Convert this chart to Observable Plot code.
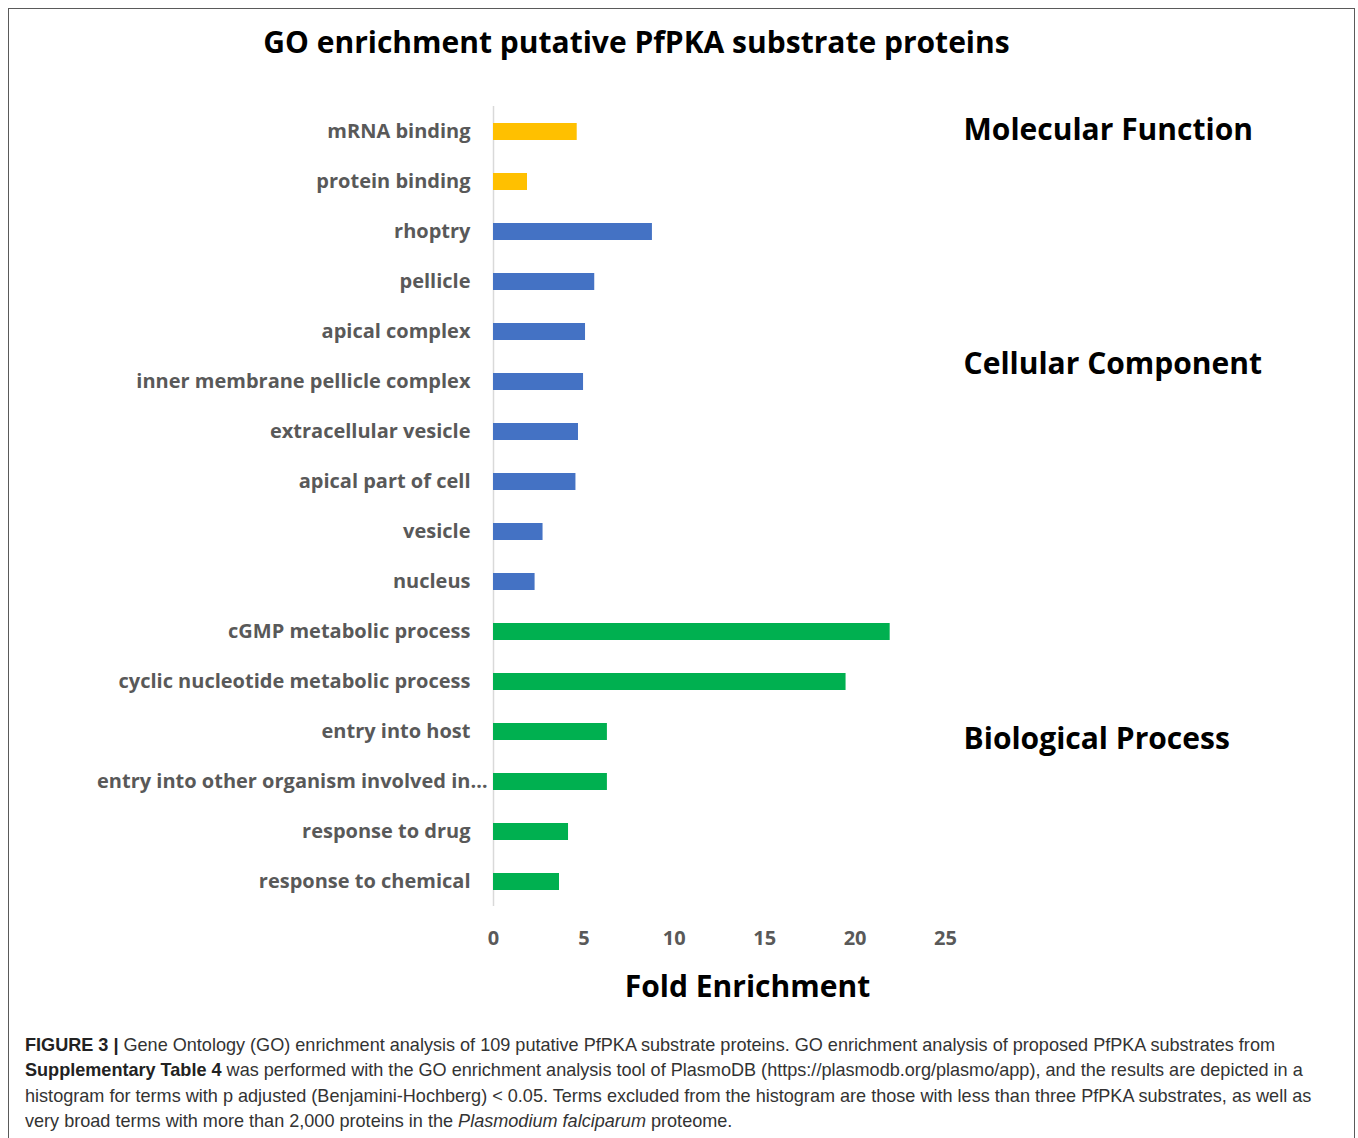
<!DOCTYPE html>
<html><head><meta charset="utf-8">
<script src="https://cdn.jsdelivr.net/npm/d3@7"></script>
<script src="https://cdn.jsdelivr.net/npm/@observablehq/plot@0.6"></script>
<style>
body{margin:0;background:#fff;width:1358px;height:1138px;overflow:hidden;position:relative;}
#frame{position:absolute;left:8px;top:8px;width:1347px;height:1140px;border:1px solid #5a5a5a;border-bottom:none;box-sizing:border-box;}
#title{position:absolute;left:0;width:1273px;top:21px;text-align:center;font-family:"Open Sans";font-weight:bold;font-size:30px;color:#000;white-space:nowrap;}
#chart{position:absolute;left:0;top:0;}
#caption{position:absolute;left:25px;top:1032px;font-family:"Liberation Sans";font-size:18.5px;line-height:25.4px;color:#333;white-space:nowrap;transform-origin:0 0;}
#caption b{color:#222;}
</style>
</head><body>
<div id="frame"></div>
<div id="chart"></div>
<div id="title">GO enrichment putative PfPKA substrate proteins</div>
<div id="caption">
<div id="cap1" style="display:inline-block"><b>FIGURE 3 |</b> Gene Ontology (GO) enrichment analysis of 109 putative PfPKA substrate proteins. GO enrichment analysis of proposed PfPKA substrates from</div>
<div><b>Supplementary Table 4</b> was performed with the GO enrichment analysis tool of PlasmoDB (https://plasmodb.org/plasmo/app), and the results are depicted in a</div>
<div>histogram for terms with p adjusted (Benjamini-Hochberg) &lt; 0.05. Terms excluded from the histogram are those with less than three PfPKA substrates, as well as</div>
<div>very broad terms with more than 2,000 proteins in the <i>Plasmodium falciparum</i> proteome.</div>
</div>
<script>
const categories = [
  "mRNA binding","protein binding",
  "rhoptry","pellicle","apical complex","inner membrane pellicle complex","extracellular vesicle","apical part of cell","vesicle","nucleus",
  "cGMP metabolic process","cyclic nucleotide metabolic process","entry into host","entry into other organism involved in…","response to drug","response to chemical"
];
const values = [4.63,1.88, 8.79,5.6,5.09,4.98,4.7,4.56,2.74,2.3, 21.94,19.5,6.3,6.3,4.15,3.65];
const groups = ["Molecular Function","Molecular Function",
  "Cellular Component","Cellular Component","Cellular Component","Cellular Component","Cellular Component","Cellular Component","Cellular Component","Cellular Component",
  "Biological Process","Biological Process","Biological Process","Biological Process","Biological Process","Biological Process"];
const groupNames = ["Molecular Function","Cellular Component","Biological Process"];
const groupColors = ["#FFC000","#4472C4","#00B050"];
const groupLabelRow = ["mRNA binding","inner membrane pellicle complex","entry into host"];
const groupLabelDy = [-2,-18,7];
const xTicks = [0,5,10,15,20,25];
const xLabel = "Fold Enrichment";
const longLabel = "entry into other organism involved in…";

const data = categories.map((c,i)=>({category:c, value:values[i], group:groups[i]}));
const glabels = groupNames.map((g,i)=>({group:g, row:groupLabelRow[i], dy:groupLabelDy[i]}));

const chart = Plot.plot({
  width:1358, height:1020,
  marginLeft:493, marginRight:413, marginTop:106, marginBottom:114,
  style:{fontFamily:"Open Sans", background:"transparent"},
  x:{domain:[0,25], axis:null},
  y:{domain:categories, paddingInner:0.66, paddingOuter:0.33, axis:null},
  color:{domain:groupNames, range:groupColors},
  marks:[
    Plot.ruleX([0],{stroke:"#d9d9d9", strokeWidth:1.5}),
    Plot.barX(data,{x:"value", y:"category", fill:"group"}),
    Plot.axisX({ticks:xTicks, tickSize:0, tickPadding:24, fontSize:20, fontWeight:"bold", fill:"#595959", label:null}),
    Plot.axisY({tickSize:0, tickPadding:23, fontSize:20, fontWeight:"bold", fill:"#595959", label:null,
      tickFormat:d=> d===longLabel ? "" : d}),
    Plot.axisY({ticks:[longLabel], tickSize:0, tickPadding:6, fontSize:20, fontWeight:"bold", fill:"#595959", label:null}),
    ...glabels.map(g=>Plot.text([g],{x:()=>26, y:"row", text:"group", textAnchor:"start", fontSize:30, fontWeight:"bold", fill:"#000", dy:g.dy})),
    Plot.text([xLabel],{frameAnchor:"bottom-left", text:d=>d, textAnchor:"middle", lineAnchor:"middle", dx:254, dy:81, fontSize:30, fontWeight:"bold", fill:"#000"})
  ]
});
document.getElementById("chart").appendChild(chart);
const cap = document.getElementById("caption");
const w = document.getElementById("cap1").getBoundingClientRect().width;
cap.style.transform = `scaleX(${1250 / w})`;
</script>
</body></html>
